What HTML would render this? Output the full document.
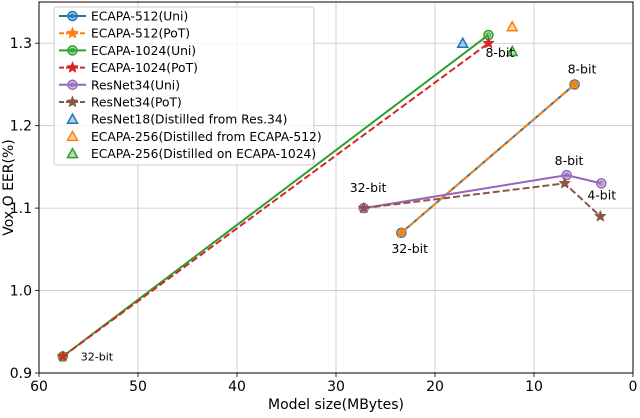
<!DOCTYPE html>
<html><head><meta charset="utf-8"><style>
body{margin:0;background:#fff}
svg{font-family:"DejaVu Sans","Liberation Sans",sans-serif}
</style></head><body>
<svg id="chart" width="640" height="413" xmlns="http://www.w3.org/2000/svg"></svg>
<script>
const xTicks=[60,50,40,30,20,10,0];
const yTicks=[0.9,1.0,1.1,1.2,1.3];
const yTickLabels=["0.9","1.0","1.1","1.2","1.3"];
const ecapa512Size=[23.4,5.9];
const ecapa512Uni=[1.07,1.25];
const ecapa512PoT=[1.07,1.25];
const ecapa1024Size=[57.6,14.6];
const ecapa1024Uni=[0.92,1.31];
const ecapa1024PoT=[0.92,1.30];
const resnetSize=[27.2,6.7,3.2];
const resnetUni=[1.10,1.14,1.13];
const resnetPoTSize=[27.2,6.9,3.3];
const resnetPoT=[1.10,1.13,1.09];
const distilledNames=["ResNet18(Distilled from Res.34)","ECAPA-256(Distilled from ECAPA-512)","ECAPA-256(Distilled on ECAPA-1024)"];
const distilledSize=[17.2,12.2,12.2];
const distilledEER=[1.30,1.32,1.29];

const L=39,R=633,T=2,B=373;
const X=v=>L+(60-v)/60*(R-L);
const Y=v=>B-(v-0.9)/0.45*(B-T);
const svg=document.getElementById('chart');
const NS='http://www.w3.org/2000/svg';
function mk(tag,attrs,parent){const e=document.createElementNS(NS,tag);for(const k in attrs)e.setAttribute(k,attrs[k]);(parent||svg).appendChild(e);return e;}

xTicks.forEach((t,i)=>{
  const g=mk('line',{x1:X(t),x2:X(t),y1:T,y2:B,stroke:'#b0b0b0','stroke-width':0.8,opacity:0.7});
  
  
  mk('line',{x1:X(t),x2:X(t),y1:B,y2:B+4,stroke:'#000','stroke-width':0.8});
  const tx=mk('text',{x:X(t),y:B+18,'text-anchor':'middle','font-size':14});
  tx.textContent=t;
  
  
});
yTicks.forEach((t,i)=>{
  const g=mk('line',{x1:L,x2:R,y1:Y(t),y2:Y(t),stroke:'#b0b0b0','stroke-width':0.8,opacity:0.7});
  
  
  mk('line',{x1:L-4,x2:L,y1:Y(t),y2:Y(t),stroke:'#000','stroke-width':0.8});
  const tx=mk('text',{x:L-7,y:Y(t)+5,'text-anchor':'end','font-size':14});
  tx.textContent=yTickLabels[i];
  
  
});
const frame=mk('rect',{x:L,y:T,width:R-L,height:B-T,fill:'none',stroke:'#000','stroke-width':1});


const xt=mk('text',{x:(L+R)/2,y:409,'text-anchor':'middle','font-size':14});
xt.textContent='Model size(MBytes)';


const yt=mk('text',{x:0,y:0,'text-anchor':'middle','font-size':14,transform:`translate(13,${(T+B)/2}) rotate(-90)`});
yt.textContent='Vox.O EER(%)';



function starPts(cx,cy,r){let p=[];for(let i=0;i<10;i++){const a=-Math.PI/2+i*Math.PI/5;const rr=i%2?r*0.45:r;p.push((cx+rr*Math.cos(a)).toFixed(1)+','+(cy+rr*Math.sin(a)).toFixed(1));}return p.join(' ');}
function marker(type,cx,cy,color,parent){
  if(type==='o'){mk('circle',{cx,cy,r:4.5,fill:color,'fill-opacity':0.35,stroke:color,'stroke-width':1.5},parent);mk('circle',{cx,cy,r:2,fill:'none',stroke:color,'stroke-width':1},parent);}
  else if(type==='*'){mk('polygon',{points:starPts(cx,cy,6),fill:color,stroke:color,'stroke-width':0.5},parent);}
  else {mk('polygon',{points:`${cx},${cy-5} ${cx-5},${cy+4} ${cx+5},${cy+4}`,fill:color,'fill-opacity':0.35,stroke:color,'stroke-width':1.5},parent);}
}
function series(name,xs,ys,color,dash,type){
  const g=mk('g',{});
  
  
  const pts=xs.map((x,i)=>X(x)+','+Y(ys[i])).join(' ');
  const a={points:pts,fill:'none',stroke:color,'stroke-width':2};
  if(dash)a['stroke-dasharray']='7,3';
  mk('polyline',a,g);
  xs.forEach((x,i)=>marker(type,X(x),Y(ys[i]),color,g));
}
series('ecapa-512-uni',ecapa512Size,ecapa512Uni,'#1f77b4',false,'o');
series('ecapa-512-pot',ecapa512Size,ecapa512PoT,'#ff7f0e',true,'*');
series('ecapa-1024-uni',ecapa1024Size,ecapa1024Uni,'#2ca02c',false,'o');
series('ecapa-1024-pot',ecapa1024Size,ecapa1024PoT,'#d62728',true,'*');
series('resnet34-uni',resnetSize,resnetUni,'#9467bd',false,'o');
series('resnet34-pot',resnetPoTSize,resnetPoT,'#8c564b',true,'*');
const triColors=['#1f77b4','#ff7f0e','#2ca02c'];
distilledSize.forEach((s,i)=>{
  const g=mk('g',{});
  
  
  marker('^',X(s),Y(distilledEER[i]),triColors[i],g);
});
const ann=[[14.6,1.31,-3,22,'8-bit'],[5.9,1.25,-7,-11,'8-bit'],[23.4,1.07,-10,20,'32-bit'],[27.2,1.10,-14,-16,'32-bit'],[6.7,1.14,-12,-10,'8-bit'],[3.3,1.09,-13,-17,'4-bit'],[57.6,0.92,18,4,'32-bit']];
ann.forEach(a=>{
  const t=mk('text',{x:X(a[0])+a[2],y:Y(a[1])+a[3],'font-size':a[4]==='32-bit'&&a[0]>50?11:12.5});
  t.textContent=a[4];
  
  
});
const lg=mk('g',{});


mk('rect',{x:54,y:7,width:260,height:158,rx:3,fill:'#fff','fill-opacity':0.8,stroke:'#ccc'},lg);
const entries=[['ECAPA-512(Uni)','#1f77b4',false,'o'],['ECAPA-512(PoT)','#ff7f0e',true,'*'],['ECAPA-1024(Uni)','#2ca02c',false,'o'],['ECAPA-1024(PoT)','#d62728',true,'*'],['ResNet34(Uni)','#9467bd',false,'o'],['ResNet34(PoT)','#8c564b',true,'*'],[distilledNames[0],'#1f77b4',null,'^'],[distilledNames[1],'#ff7f0e',null,'^'],[distilledNames[2],'#2ca02c',null,'^']];
entries.forEach((e,i)=>{
  const y=16+i*17.2;
  const g=mk('g',{},lg);
  
  
  if(e[2]!==null){const a={x1:59,x2:86,y1:y,y2:y,stroke:e[1],'stroke-width':2};if(e[2])a['stroke-dasharray']='5,2';mk('line',a,g);}
  marker(e[3],72.5,y,e[1],g);
  const t=mk('text',{x:91,y:y+4.5,'font-size':12.3},g);
  t.textContent=e[0];
});
</script>
</body></html>
